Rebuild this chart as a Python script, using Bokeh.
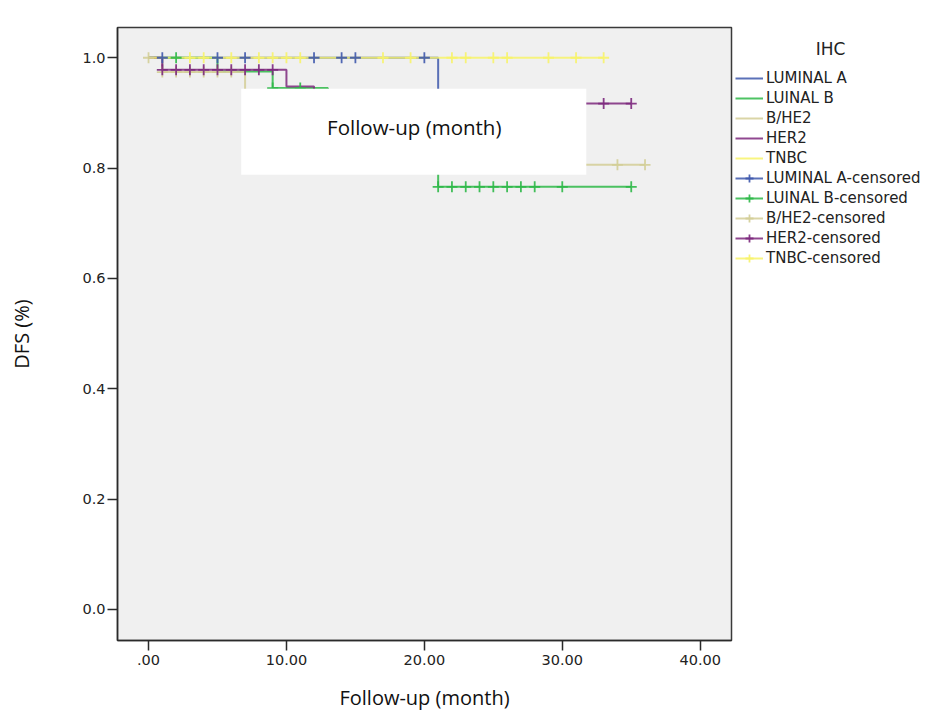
from bokeh.plotting import figure
from bokeh.layouts import row
from bokeh.models import (Range1d, FixedTicker, Legend, LegendItem,
                          BoxAnnotation, Label, ColumnDataSource)
from bokeh.embed import file_html
from bokeh.resources import INLINE

# ---------------- data ----------------
groups = ["LUMINAL A", "LUINAL B", "B/HE2", "HER2", "TNBC"]
colors = ["#3e58ac", "#2eb848", "#d3ce97", "#7c287d", "#f7f36a"]

# Kaplan-Meier steps: time of each step (months) and survival after it
lumA_t = [0, 21]
lumA_s = [1.0, 0.875]
lumB_t = [0, 5, 9, 13, 21, 35]
lumB_s = [1.0, 0.975, 0.945, 0.89, 0.766, 0.766]
bhe2_t = [0, 1, 7, 20, 36]
bhe2_s = [1.0, 0.974, 0.93, 0.806, 0.806]
her2_t = [0, 1, 10, 12, 35]
her2_s = [1.0, 0.978, 0.948, 0.917, 0.917]
tnbc_t = [0, 33]
tnbc_s = [1.0, 1.0]

# censored observations
lumA_ct = [1, 5, 7, 12, 14, 15, 20]
lumA_cs = [1.0, 1.0, 1.0, 1.0, 1.0, 1.0, 1.0]
lumB_ct = [2, 9, 11, 21, 22, 23, 24, 25, 26, 27, 28, 30, 35]
lumB_cs = [1.0, 0.945, 0.945, 0.766, 0.766, 0.766, 0.766, 0.766, 0.766,
           0.766, 0.766, 0.766, 0.766]
bhe2_ct = [0, 1, 2, 3, 4, 5, 6, 34, 36]
bhe2_cs = [1.0, 0.974, 0.974, 0.974, 0.974, 0.974, 0.974, 0.806, 0.806]
her2_ct = [1, 2, 3, 4, 5, 6, 7, 8, 9, 33, 35]
her2_cs = [0.978, 0.978, 0.978, 0.978, 0.978, 0.978, 0.978, 0.978, 0.978,
           0.917, 0.917]
tnbc_ct = [3, 4, 6, 8, 9, 10, 11, 17, 19, 22, 23, 25, 26, 29, 31, 33]
tnbc_cs = [1.0] * 16

x_ticks = [0, 10, 20, 30, 40]
x_labels = [".00", "10.00", "20.00", "30.00", "40.00"]
y_ticks = [0.0, 0.2, 0.4, 0.6, 0.8, 1.0]
y_labels = ["0.0", "0.2", "0.4", "0.6", "0.8", "1.0"]

curves = [(lumA_t, lumA_s), (lumB_t, lumB_s), (bhe2_t, bhe2_s),
          (her2_t, her2_s), (tnbc_t, tnbc_s)]
censored = [(lumA_ct, lumA_cs), (lumB_ct, lumB_cs), (bhe2_ct, bhe2_cs),
            (her2_ct, her2_cs), (tnbc_ct, tnbc_cs)]

curve_src = [ColumnDataSource(dict(x=t, y=s)) for t, s in curves]
cens_src = [ColumnDataSource(dict(x=t, y=s)) for t, s in censored]

LINE = dict(line_width=2, line_alpha=0.85)
MARK = dict(marker="cross", size=11, line_width=1.8, line_alpha=0.9)

TOP, FH, BOT = 27, 613, 75

# ---------------- main plot ----------------
p = figure(frame_width=614, frame_height=FH,
           min_border_left=117, min_border_right=4,
           min_border_top=TOP, min_border_bottom=BOT,
           x_range=Range1d(-2.25, 42.27), y_range=Range1d(-0.0562, 1.0548),
           output_backend="svg", toolbar_location=None)
p.background_fill_color = "#f0f0f0"
p.border_fill_color = "white"
p.grid.visible = False
p.outline_line_color = "#3a3a3a"
p.outline_line_width = 1.5

for ax in (p.xaxis[0], p.yaxis[0]):
    ax.axis_line_color = "#2a2a2a"
    ax.axis_line_width = 1.5
    ax.major_tick_line_color = "#2a2a2a"
    ax.major_tick_line_width = 1.5
    ax.major_tick_out = 10
    ax.major_tick_in = 0
    ax.minor_tick_line_color = None
    ax.major_label_text_font = "DejaVu Sans"
    ax.major_label_text_font_size = "14.5px"
    ax.major_label_text_color = "#222222"
    ax.axis_label_text_font = "Open Sans"
    ax.axis_label_text_font_size = "20px"
    ax.axis_label_text_font_style = "normal"
    ax.axis_label_text_color = "#111111"

p.xaxis.ticker = FixedTicker(ticks=x_ticks)
p.xaxis.major_label_overrides = {t: l for t, l in zip(x_ticks, x_labels)}
p.xaxis.axis_label = "Follow-up (month)"
p.xaxis.major_label_standoff = 4
p.xaxis.axis_label_standoff = 16

p.yaxis.ticker = FixedTicker(ticks=y_ticks)
p.yaxis.major_label_overrides = {t: l for t, l in zip(y_ticks, y_labels)}
p.yaxis.axis_label = "DFS (%)"
p.yaxis.major_label_standoff = 2
p.yaxis.axis_label_standoff = 44

for src, c in zip(curve_src, colors):
    p.step("x", "y", source=src, mode="after", line_color=c, **LINE)
for src, c in zip(cens_src, colors):
    p.scatter("x", "y", source=src, line_color=c, **MARK)

# white overlay box with the stray axis title
p.add_layout(BoxAnnotation(left=6.72, right=31.74, top=0.9437, bottom=0.7877,
                           fill_color="white", fill_alpha=1.0,
                           line_color=None))
p.add_layout(Label(x=19.27, y=0.874, text="Follow-up (month)",
                   text_font="Open Sans", text_font_size="20.5px",
                   text_color="#111111", text_align="center",
                   text_baseline="middle"))

# ---------------- legend panel (same data, viewed off-range) ----------------
q = figure(frame_width=192, frame_height=FH,
           min_border_left=0, min_border_right=0,
           min_border_top=TOP, min_border_bottom=BOT,
           x_range=Range1d(1000, 1192), y_range=Range1d(1000, 1000 + FH),
           x_axis_type=None, y_axis_type=None,
           output_backend="svg", toolbar_location=None)
q.grid.visible = False
q.outline_line_color = None
q.background_fill_color = "white"
q.border_fill_color = "white"

line_rs = [q.step("x", "y", source=src, mode="after", line_color=c, **LINE)
           for src, c in zip(curve_src, colors)]
mark_rs = [q.scatter("x", "y", source=src, line_color=c, **MARK)
           for src, c in zip(cens_src, colors)]

items = [LegendItem(label=g, renderers=[lr]) for g, lr in zip(groups, line_rs)]
items += [LegendItem(label=g + "-censored", renderers=[lr, mr])
          for g, lr, mr in zip(groups, line_rs, mark_rs)]
legend = Legend(items=items, location=(0, 372), margin=0, padding=0,
                border_line_color=None, background_fill_alpha=0,
                glyph_width=28, glyph_height=20, label_height=20, spacing=0,
                label_standoff=3, label_text_font="DejaVu Sans",
                label_text_font_size="15px", label_text_color="#222222")
q.add_layout(legend)
q.add_layout(Label(x=1095, y=1591.5, text="IHC", text_font="DejaVu Sans",
                   text_font_size="17px", text_color="#222222",
                   text_align="center", text_baseline="middle"))

layout = row(p, q, spacing=0)
open("out.html", "w").write(file_html(layout, INLINE))
